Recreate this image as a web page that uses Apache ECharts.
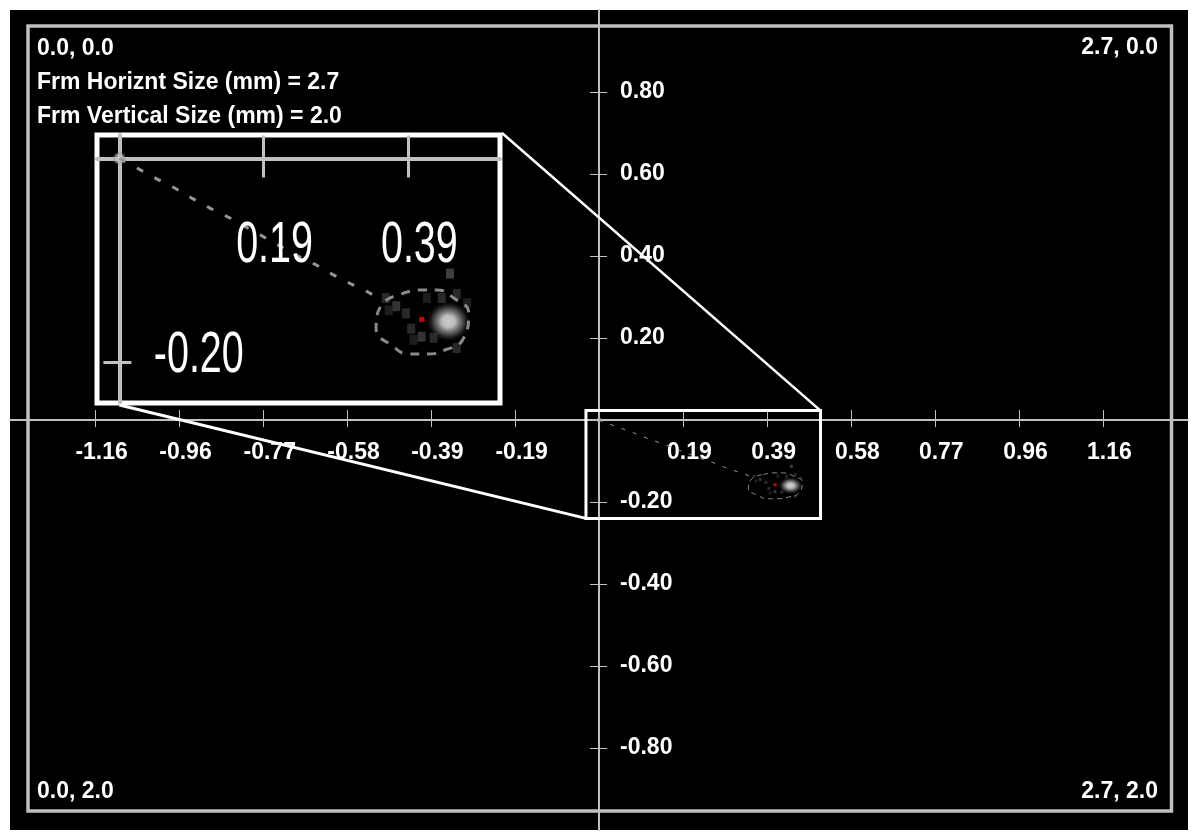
<!DOCTYPE html>
<html>
<head>
<meta charset="utf-8">
<title>Frame</title>
<script src="https://cdn.jsdelivr.net/npm/echarts@6/dist/echarts.min.js"></script>
<style>
html, body { margin: 0; padding: 0; background: #fff; }
#chart { width: 1198px; height: 835px; }
</style>
</head>
<body>
<div id="chart"></div>
<script>
// axis ticks
var xTickValues = [-1.16, -0.967, -0.773, -0.58, -0.387, -0.193, 0.193, 0.387, 0.58, 0.773, 0.967, 1.16];
var xTickLabels = ['-1.16', '-0.96', '-0.77', '-0.58', '-0.39', '-0.19', '0.19', '0.39', '0.58', '0.77', '0.96', '1.16'];
var yTickValues = [0.8, 0.6, 0.4, 0.2, -0.2, -0.4, -0.6, -0.8];
var yTickLabels = ['0.80', '0.60', '0.40', '0.20', '-0.20', '-0.40', '-0.60', '-0.80'];

// view ranges
var xRange = [-1.356, 1.356];
var yRange = [-1, 1];
var zoomX = [-0.03, 0.51];   // magnified window
var zoomY = [-0.24, 0.023];

// trail from origin to the spot
var trail = [[0, 0], [0.025, -0.010], [0.050, -0.020], [0.074, -0.029], [0.097, -0.039], [0.122, -0.049],
    [0.147, -0.058], [0.169, -0.067], [0.191, -0.076], [0.215, -0.086], [0.240, -0.096], [0.265, -0.105],
    [0.286, -0.114], [0.310, -0.123], [0.333, -0.131], [0.347, -0.137]];
// dashed ring round the spot
var ring = [[0.378, -0.133], [0.403, -0.129], [0.425, -0.129], [0.448, -0.137], [0.468, -0.152], [0.459, -0.179],
    [0.436, -0.188], [0.414, -0.192], [0.389, -0.192], [0.366, -0.184], [0.344, -0.167], [0.351, -0.144], [0.378, -0.133]];
// dim cells near the spot: x, y, level
var haze = [[0.357, -0.137, 0.2], [0.371, -0.145, 0.25], [0.384, -0.152, 0.2], [0.361, -0.149, 0.15],
    [0.391, -0.167, 0.2], [0.405, -0.175, 0.25], [0.421, -0.176, 0.2], [0.394, -0.178, 0.15],
    [0.452, -0.133, 0.2], [0.466, -0.142, 0.15], [0.443, -0.113, 0.3], [0.412, -0.137, 0.15],
    [0.432, -0.137, 0.2], [0.452, -0.186, 0.2]];
var peak = [[0.441, -0.160]];
var redMark = [[0.405, -0.158]];
var origin = [[0, 0]];

var cornerLabels = ['0.0, 0.0', '2.7, 0.0', '0.0, 2.0', '2.7, 2.0'];
var infoLines = ['Frm Horiznt Size (mm) = 2.7', 'Frm Vertical Size (mm) = 2.0'];

var FONT = '"Liberation Sans", Arial, sans-serif';
var LABEL_FONT = 'bold 23px ' + FONT;
var ZOOM_FONT = '23px ' + FONT;
var GRAY = '#c0c0c0';

// grid boxes
var mainBox = { left: 10, top: 10, width: 1178, height: 820 };
var zoomBox = { left: 97, top: 135, width: 403, height: 268 };

function pickLabel(vals, labels, v) {
    for (var i = 0; i < vals.length; i++) {
        if (Math.abs(vals[i] - v) < 1e-6) return labels[i];
    }
    return '';
}

// where the zero lines sit, measured from the grid edges (used as axis offset)
function zeroOffset(box, xr, yr) {
    var zx = box.width * (0 - xr[0]) / (xr[1] - xr[0]);
    var zy = box.height * (yr[1] - 0) / (yr[1] - yr[0]);
    return { x: -(box.height - zy), y: -zx };
}

// A: axis line on zero + ticks on one side; B: other side ticks + labels, moved to zero by offset
function makeX(grid, range, s, off) {
    return [{
        type: 'value', gridIndex: grid, min: range[0], max: range[1],
        axisLine: { onZero: true, lineStyle: { color: GRAY, width: s.line } },
        axisTick: { inside: true, length: s.up, customValues: xTickValues, lineStyle: { color: GRAY, width: s.tick } },
        axisLabel: { show: false },
        splitLine: { show: false }
    }, {
        type: 'value', gridIndex: grid, min: range[0], max: range[1], position: 'bottom', offset: off,
        axisLine: { show: false, onZero: false },
        axisTick: { inside: false, length: s.down, customValues: xTickValues, lineStyle: { color: GRAY, width: s.tick } },
        axisLabel: {
            show: s.labels, customValues: xTickValues, color: '#fff', fontFamily: FONT, fontWeight: 'bold', fontSize: 23,
            margin: 21, padding: [0, 0, 0, 13],
            formatter: function (v) { return pickLabel(xTickValues, xTickLabels, v); }
        },
        splitLine: { show: false }
    }];
}
function makeY(grid, range, s, off) {
    return [{
        type: 'value', gridIndex: grid, min: range[0], max: range[1],
        axisLine: { onZero: true, lineStyle: { color: GRAY, width: s.line } },
        axisTick: { inside: true, length: s.right, customValues: yTickValues, lineStyle: { color: GRAY, width: s.tick } },
        axisLabel: { show: false },
        splitLine: { show: false }
    }, {
        type: 'value', gridIndex: grid, min: range[0], max: range[1], position: 'left', offset: off,
        axisLine: { show: false, onZero: false },
        axisTick: { inside: false, length: s.left, customValues: yTickValues, lineStyle: { color: GRAY, width: s.tick } },
        axisLabel: {
            show: s.labels, inside: true, align: 'left', customValues: yTickValues, color: '#fff', fontFamily: FONT,
            fontWeight: 'bold', fontSize: 23, margin: 21, padding: [0, 0, 8, 0],
            formatter: function (v) { return pickLabel(yTickValues, yTickLabels, v); }
        },
        splitLine: { show: false }
    }];
}

var mainStyle = { line: 2, tick: 1, up: 10, down: 7, right: 8, left: 9, labels: true };
var zoomStyle = { line: 4, tick: 3, up: 23, down: 19, right: 12, left: 16, labels: false };
var mainOff = zeroOffset(mainBox, xRange, yRange);
var zoomOff = zeroOffset(zoomBox, zoomX, zoomY);

// series drawn in one grid
function makeSeries(xi, yi, k) {
    return [{
        type: 'line', xAxisIndex: xi, yAxisIndex: yi, data: trail, symbol: 'none', silent: true,
        lineStyle: { color: '#969696', width: k.trailW, type: k.trailDash }
    }, {
        type: 'line', xAxisIndex: xi, yAxisIndex: yi, data: ring, symbol: 'none', smooth: true, silent: true,
        lineStyle: { color: '#8a8a8a', width: k.trailW, type: k.ringDash }
    }, {
        type: 'scatter', xAxisIndex: xi, yAxisIndex: yi, data: haze, symbol: 'rect', symbolSize: k.cell, silent: true,
        itemStyle: {
            color: function (p) {
                var g = Math.round(255 * p.data[2]);
                return 'rgb(' + g + ',' + g + ',' + g + ')';
            }
        }
    }, {
        type: 'scatter', xAxisIndex: xi, yAxisIndex: yi, data: peak, symbolSize: k.glow, silent: true,
        itemStyle: {
            color: new echarts.graphic.RadialGradient(0.5, 0.5, 0.5, [
                { offset: 0, color: '#ffffff' },
                { offset: 0.3, color: '#ececec' },
                { offset: 0.65, color: 'rgba(130,130,130,0.75)' },
                { offset: 1, color: 'rgba(40,40,40,0)' }
            ])
        }
    }, {
        type: 'scatter', xAxisIndex: xi, yAxisIndex: yi, data: origin, symbolSize: k.orig, silent: true,
        itemStyle: {
            color: new echarts.graphic.RadialGradient(0.5, 0.5, 0.5, [
                { offset: 0, color: '#e0e0e0' },
                { offset: 0.6, color: '#b0b0b0' },
                { offset: 1, color: 'rgba(120,120,120,0)' }
            ])
        }
    }, {
        type: 'scatter', xAxisIndex: xi, yAxisIndex: yi, data: redMark, symbol: 'rect', symbolSize: k.red, silent: true,
        itemStyle: { color: '#ff0000' }, z: 5
    }];
}

function textEl(id, x, y, str, align) {
    return { id: id, type: 'text', z: 10, silent: true,
        style: { x: x, y: y, text: str, fill: '#fff', font: LABEL_FONT, textAlign: align || 'left', textVerticalAlign: 'middle' } };
}

var chart = echarts.init(document.getElementById('chart'));

var option = {
    backgroundColor: '#ffffff',
    animation: false,
    grid: [
        { left: mainBox.left, top: mainBox.top, width: mainBox.width, height: mainBox.height, show: true,
          backgroundColor: '#000', borderWidth: 0, outerBoundsMode: 'none' },
        { left: zoomBox.left, top: zoomBox.top, width: zoomBox.width, height: zoomBox.height, show: true,
          backgroundColor: '#000', borderColor: '#fff', borderWidth: 5, outerBoundsMode: 'none' }
    ],
    xAxis: makeX(0, xRange, mainStyle, mainOff.x).concat(makeX(1, zoomX, zoomStyle, zoomOff.x)),
    yAxis: makeY(0, yRange, mainStyle, mainOff.y).concat(makeY(1, zoomY, zoomStyle, zoomOff.y)),
    series: makeSeries(0, 0, { trailW: 1, trailDash: [4, 8], ringDash: [5, 4], cell: 3, glow: [24, 17], orig: 6, red: 3 })
        .concat(makeSeries(2, 2, { trailW: 3, trailDash: [7, 13], ringDash: [9, 8], cell: [8, 10], glow: [44, 40], orig: 14, red: 5 })),
    graphic: [
        { id: 'frame', type: 'rect', shape: { x: 28, y: 26, width: 1143.5, height: 785 },
          style: { fill: 'none', stroke: GRAY, lineWidth: 3.5 }, z: 1, silent: true },
        textEl('t0', 37, 49, cornerLabels[0]),
        textEl('t1', 1158, 48, cornerLabels[1], 'right'),
        textEl('t2', 37, 792, cornerLabels[2]),
        textEl('t3', 1158, 792, cornerLabels[3], 'right'),
        textEl('i0', 37, 83, infoLines[0]),
        textEl('i1', 37, 117, infoLines[1])
    ]
};
chart.setOption(option);

// box round the magnified window and the lines to the inset
var a = chart.convertToPixel({ gridIndex: 0 }, [zoomX[0], zoomY[1]]);
var b = chart.convertToPixel({ gridIndex: 0 }, [zoomX[1], zoomY[0]]);
var c = chart.convertToPixel({ gridIndex: 1 }, [zoomX[1], zoomY[1]]);
var d = chart.convertToPixel({ gridIndex: 1 }, [0, zoomY[0]]);
var o0 = chart.convertToPixel({ gridIndex: 0 }, [0, 0]);
var o1 = chart.convertToPixel({ gridIndex: 1 }, [0, 0]);
var m1 = chart.convertToPixel({ gridIndex: 0 }, [0.1, -0.1]);
var z1 = chart.convertToPixel({ gridIndex: 1 }, [0.1, -0.1]);
var sx = (z1[0] - o1[0]) / (m1[0] - o0[0]);   // inset magnification
var sy = (z1[1] - o1[1]) / (m1[1] - o0[1]);

var extra = [
    { id: 'win', type: 'rect', shape: { x: a[0], y: a[1], width: b[0] - a[0], height: b[1] - a[1] },
      style: { fill: 'none', stroke: '#fff', lineWidth: 3 }, z: 6, silent: true },
    { id: 'lnTop', type: 'line', shape: { x1: c[0] + 2, y1: c[1] - 2, x2: b[0], y2: a[1] },
      style: { stroke: '#fff', lineWidth: 2.5 }, z: 6, silent: true },
    { id: 'lnBot', type: 'line', shape: { x1: d[0], y1: d[1] + 2, x2: a[0], y2: b[1] },
      style: { stroke: '#fff', lineWidth: 3 }, z: 6, silent: true }
];

// inset tick labels: the main labels, stretched like the picture
for (var i = 0; i < xTickValues.length; i++) {
    var v = xTickValues[i];
    if (v <= zoomX[0] || v >= zoomX[1]) continue;
    var p = chart.convertToPixel({ gridIndex: 1 }, [v, 0]);
    extra.push({ id: 'zx' + i, type: 'text', x: p[0] + 6.5 * sx, y: p[1] + 35.5 * sy, scaleX: sx, scaleY: sy, z: 4, silent: true,
        style: { x: 0, y: 0, text: xTickLabels[i], fill: '#fff', font: ZOOM_FONT, textAlign: 'center', textVerticalAlign: 'middle' } });
}
for (var j = 0; j < yTickValues.length; j++) {
    var w = yTickValues[j];
    if (w <= zoomY[0] || w >= zoomY[1]) continue;
    var q = chart.convertToPixel({ gridIndex: 1 }, [0, w]);
    extra.push({ id: 'zy' + j, type: 'text', x: q[0] + 20 * sx, y: q[1] - 2.5 * sy, scaleX: sx, scaleY: sy, z: 4, silent: true,
        style: { x: 0, y: 0, text: yTickLabels[j], fill: '#fff', font: ZOOM_FONT, textAlign: 'left', textVerticalAlign: 'middle' } });
}
chart.setOption({ graphic: extra });
</script>
</body>
</html>
